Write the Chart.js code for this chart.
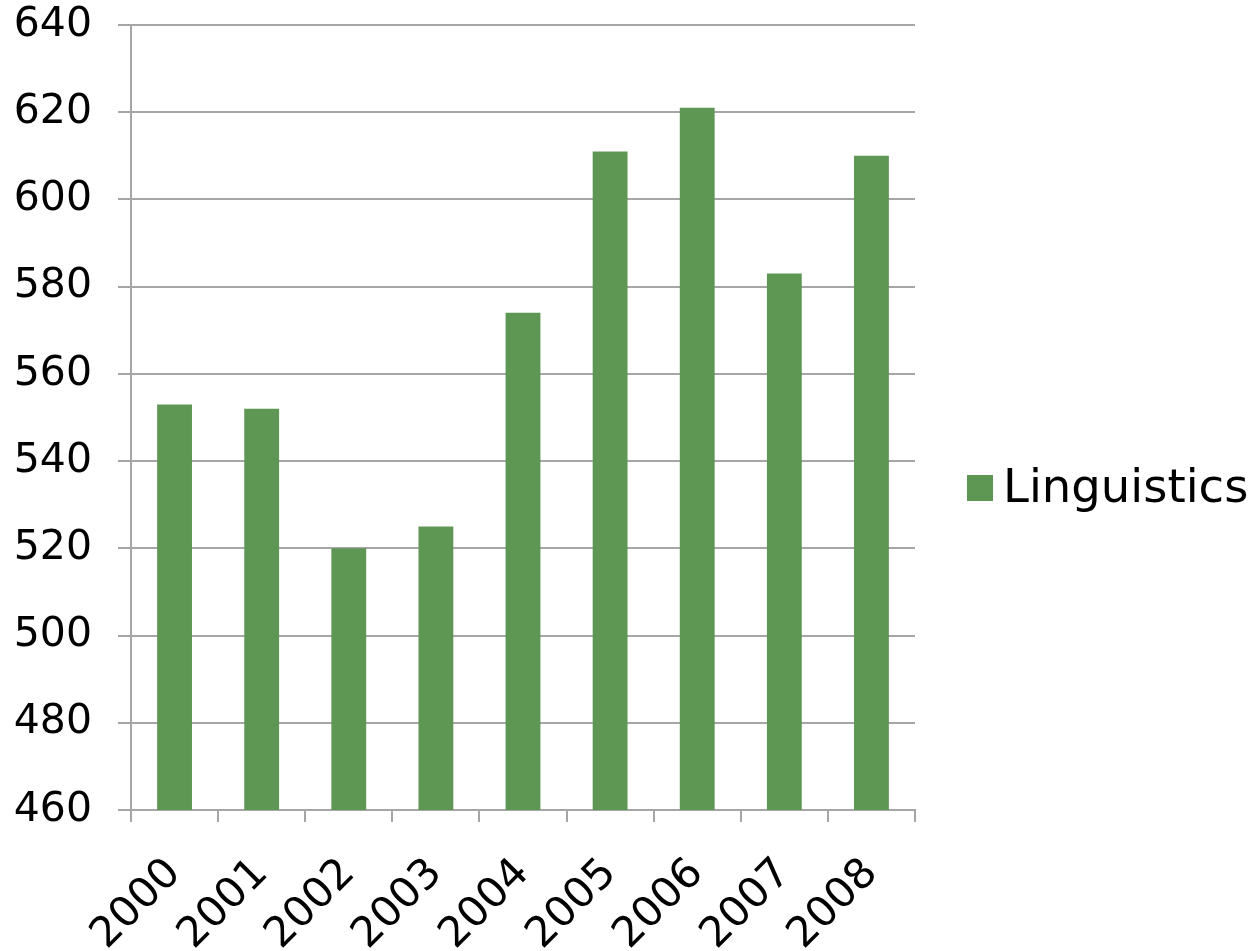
<!DOCTYPE html>
<html>
<head>
<meta charset="utf-8">
<script src="https://cdn.jsdelivr.net/npm/chart.js@4/dist/chart.umd.min.js"></script>
<style>
  html, body { margin: 0; padding: 0; background: #fff; }
  #wrap { width: 1256px; height: 951px; }
</style>
</head>
<body>
<div id="wrap"><canvas id="c" width="1256" height="951"></canvas></div>
<script>
const categories = ['2000', '2001', '2002', '2003', '2004', '2005', '2006', '2007', '2008'];
const seriesName = 'Linguistics';
const seriesValues = [553, 552, 520, 525, 574, 611, 621, 583, 610];
const yMin = 460, yMax = 640, yStep = 20;

const FONT = "'DejaVu Sans', Verdana, sans-serif";
const GRID = '#a6a6a6';
const BAR = '#5e9654';

// Legend drawn beside the plot, using the dataset's own label and colour
const sideLegend = {
  id: 'sideLegend',
  afterDraw(chart) {
    const ctx = chart.ctx;
    const area = chart.chartArea;
    chart.data.datasets.forEach((ds, i) => {
      const boxX = area.right + 52;
      const boxY = 475 + i * 60;
      ctx.save();
      ctx.fillStyle = ds.backgroundColor;
      ctx.fillRect(boxX, boxY, 26, 26);
      ctx.fillStyle = '#000';
      ctx.font = '46.5px ' + FONT;
      ctx.textBaseline = 'middle';
      ctx.textAlign = 'left';
      ctx.fillText(ds.label, boxX + 36, boxY + 15);
      ctx.restore();
    });
  }
};

new Chart(document.getElementById('c'), {
  type: 'bar',
  data: {
    labels: categories,
    datasets: [{
      label: seriesName,
      data: seriesValues,
      backgroundColor: BAR,
      borderWidth: 0,
      barPercentage: 0.8,
      categoryPercentage: 0.5
    }]
  },
  plugins: [sideLegend],
  options: {
    responsive: false,
    animation: false,
    devicePixelRatio: 1,
    layout: { padding: { top: 25, left: 12, right: 1256 - 915, bottom: 3 } },
    plugins: {
      tooltip: { enabled: false },
      legend: { display: false }
    },
    scales: {
      x: {
        grid: { display: true, drawOnChartArea: false, offset: true, color: GRID, lineWidth: 2, tickLength: 12 },
        border: { color: GRID, width: 2 },
        ticks: {
          color: '#000',
          font: { family: FONT, size: 42 },
          minRotation: 45,
          maxRotation: 45,
          padding: 27,
          autoSkip: false
        },
        afterFit(scale) {
          scale.height = 951 - 810 - 3;
          scale.paddingLeft = 0; scale.paddingRight = 0;
          scale.paddingTop = 0; scale.paddingBottom = 0;
        }
      },
      y: {
        min: yMin,
        max: yMax,
        grid: { color: GRID, lineWidth: 2, tickLength: 13 },
        border: { color: GRID, width: 2 },
        ticks: {
          stepSize: yStep,
          color: '#000',
          font: { family: FONT, size: 41 },
          padding: 26
        },
        afterFit(scale) {
          scale.width = 131 - 12;
          scale.paddingTop = 0; scale.paddingBottom = 0;
          scale.paddingLeft = 0; scale.paddingRight = 0;
        }
      }
    }
  }
});
</script>
</body>
</html>
